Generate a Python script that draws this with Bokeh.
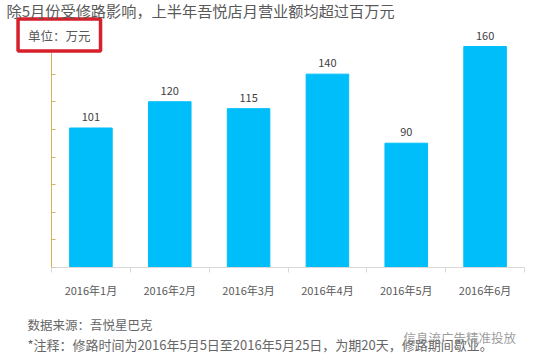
from bokeh.plotting import figure
from bokeh.layouts import column
from bokeh.models import Range1d, FixedTicker, Label, LabelSet, ColumnDataSource
from bokeh.core.properties import value
from bokeh.embed import file_html
from bokeh.resources import INLINE

months = ["2016年1月", "2016年2月", "2016年3月", "2016年4月", "2016年5月", "2016年6月"]
revenue = [101, 120, 115, 140, 90, 160]
y_ticks = [0, 20, 40, 60, 80, 100, 120, 140, 160]

title_text = "除5月份受修路影响，上半年吾悦店月营业额均超过百万元"
unit_text = "单位：万元"
source_text = "数据来源：吾悦星巴克"
note_text = "*注释：修路时间为2016年5月5日至2016年5月25日，为期20天，修路期间歇业。"
watermark_text = "信息流广告精准投放"

FONT = "Noto Sans CJK SC"

W = 534
H_CHART = 300
H_FOOT = 56

# page geometry: category 0 starts at x=51, category 6 ends at x=524; value 0 at y=267, 160 at y=46
PX_PER_CAT = (524 - 51) / 6.0
PX_PER_UNIT = (267 - 46) / 160.0

xpos = [i + 0.5 for i in range(len(months))]
src = ColumnDataSource(dict(x=xpos, y=revenue, lbl=[str(v) for v in revenue]))

x0 = -51 / PX_PER_CAT
x1 = 6 + (W - 524) / PX_PER_CAT
ytop = 267 / PX_PER_UNIT

p = figure(width=W, height=H_CHART, output_backend="svg", toolbar_location=None,
           x_range=Range1d(x0, x1), y_range=Range1d(0, ytop),
           min_border_left=0, min_border_right=0, min_border_top=0,
           min_border_bottom=H_CHART - 267)
p.outline_line_color = None
p.xgrid.grid_line_color = None
p.ygrid.grid_line_color = None
p.background_fill_color = "white"
p.border_fill_color = "white"

p.vbar(x="x", top="y", width=0.54, bottom=0, source=src, color="#00befa")

labels = LabelSet(x="x", y="y", text="lbl", source=src, y_offset=7,
                  text_align="center", text_baseline="bottom",
                  text_font_size="11px", text_color="#404040", text_font=value(FONT))
p.add_layout(labels)

# x axis
xa = p.xaxis[0]
xa.bounds = (0, len(months))
xa.ticker = FixedTicker(ticks=xpos, minor_ticks=list(range(len(months) + 1)))
xa.major_label_overrides = {x: m for x, m in zip(xpos, months)}
xa.axis_line_color = "#d9d9d9"
xa.major_tick_line_color = None
xa.major_tick_in = 0
xa.major_tick_out = 0
xa.minor_tick_line_color = "#d9d9d9"
xa.minor_tick_in = 0
xa.minor_tick_out = 5
xa.major_label_standoff = 9
xa.major_label_text_font_size = "11px"
xa.major_label_text_color = "#595959"
xa.major_label_text_font = FONT

# y axis, drawn at x = 0 inside the frame
ya = p.yaxis[0]
ya.fixed_location = 0
ya.bounds = (0, 160)
ya.ticker = FixedTicker(ticks=y_ticks)
ya.axis_line_color = "#d9b15a"
ya.major_tick_line_color = "#d9b15a"
ya.major_tick_in = 4
ya.major_tick_out = 0
ya.minor_tick_line_color = None
ya.major_label_text_font_size = "1px"
ya.major_label_text_color = None
ya.major_label_standoff = 0

def X(px):
    return (px - 51) / PX_PER_CAT

def Y(py):
    return (267 - py) / PX_PER_UNIT

p.add_layout(Label(x=X(58.8), y=Y(34.5), text=unit_text, text_align="center", text_baseline="middle",
                   text_font_size="12.5px", text_color="#595959", text_font=FONT,
                   border_line_color="#d7202b", border_line_width=3.5,
                   background_fill_color="white",
                   padding=dict(left=10, right=10, top=7, bottom=6)))
p.add_layout(Label(x=X(6), y=Y(9), text=title_text, text_align="left", text_baseline="middle",
                   text_font_size="15.2px", text_color="#595959", text_font=FONT))

# footer
f = figure(width=W, height=H_FOOT, output_backend="svg", toolbar_location=None,
           x_range=Range1d(0, W), y_range=Range1d(H_FOOT, 0),
           x_axis_type=None, y_axis_type=None,
           min_border_left=0, min_border_right=0, min_border_top=0, min_border_bottom=0)
f.outline_line_color = None
f.xgrid.grid_line_color = None
f.ygrid.grid_line_color = None

f.add_layout(Label(x=27, y=324 - H_CHART, text=source_text, text_align="left", text_baseline="middle",
                   text_font_size="12.5px", text_color="#666666", text_font=FONT))
f.add_layout(Label(x=27, y=344 - H_CHART, text=note_text, text_align="left", text_baseline="middle",
                   text_font_size="13px", text_color="#666666", text_font=FONT))
f.add_layout(Label(x=403, y=337 - H_CHART, text=watermark_text, text_align="left", text_baseline="middle",
                   text_font_size="12.5px", text_color="#8a8a8a", text_alpha=0.85, text_font=FONT))

open("out.html", "w").write(file_html(column(p, f, spacing=0), INLINE))
